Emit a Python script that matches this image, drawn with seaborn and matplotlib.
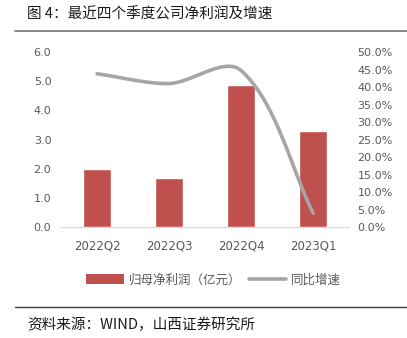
import numpy as np
import pandas as pd
import matplotlib
matplotlib.use("Agg")
import matplotlib.pyplot as plt
import seaborn as sns
from matplotlib.lines import Line2D
from matplotlib.patches import Patch

quarters = ["2022Q2", "2022Q3", "2022Q4", "2023Q1"]
net_profit = [1.99, 1.69, 4.87, 3.29]          # 归母净利润（亿元）
yoy_growth = [43.8, 41.0, 44.7, 4.0]            # 同比增速（%）
left_ticks = [0.0, 1.0, 2.0, 3.0, 4.0, 5.0, 6.0]
right_ticks = [0, 5, 10, 15, 20, 25, 30, 35, 40, 45, 50]

sns.set_theme(style="white")
plt.rcParams["font.family"] = ["Noto Sans CJK SC", "DejaVu Sans"]

BAR_RED = "#C0504D"
LINE_GREY = "#A6A6A6"
TICK_GREY = "#595959"


def smooth_curve(xs, ys, sx, sy, k=0.30, n=40):
    """Bezier smoothing in display-like units; control arms follow each
    neighbouring segment's length so steep drops do not overshoot."""
    P = np.column_stack([np.asarray(xs, float) * sx, np.asarray(ys, float) * sy])
    m = len(P)
    out = []
    for i in range(m - 1):
        a, b = P[i], P[i + 1]
        seg = np.linalg.norm(b - a)
        da = (P[i + 1] - P[i - 1]) if i > 0 else (b - a)
        db = (P[i + 2] - P[i]) if i + 2 < m else (b - a)
        c1 = a + da / np.linalg.norm(da) * seg * k
        c2 = b - db / np.linalg.norm(db) * seg * k
        t = np.linspace(0, 1, n)[:, None]
        pts = ((1 - t) ** 3) * a + 3 * ((1 - t) ** 2) * t * c1 \
            + 3 * (1 - t) * t ** 2 * c2 + t ** 3 * b
        out.append(pts if i == 0 else pts[1:])
    pts = np.vstack(out)
    return pts[:, 0] / sx, pts[:, 1] / sy


fig = plt.figure(figsize=(4.07, 3.38), dpi=100)
ax = fig.add_axes([0.150, 0.328, 0.708, 0.518])

df = pd.DataFrame({"quarter": quarters, "profit": net_profit})
sns.barplot(data=df, x="quarter", y="profit", color=BAR_RED, saturation=1,
            width=0.39, ax=ax)
ax.set_ylim(0, 6)
ax.set_yticks(left_ticks)
ax.set_yticklabels([f"{v:.1f}" for v in left_ticks])
ax.set_xlabel("")
ax.set_ylabel("")
ax.set_xlim(-0.5, 3.5)

for s in ["top", "right", "left"]:
    ax.spines[s].set_visible(False)
ax.spines["bottom"].set_color("#D9D9D9")
ax.spines["bottom"].set_linewidth(0.8)
ax.tick_params(axis="both", length=0, colors=TICK_GREY, labelsize=8)
ax.tick_params(axis="x", pad=9, labelsize=8.5)
ax.tick_params(axis="y", pad=7)
for lbl in ax.get_xticklabels() + ax.get_yticklabels():
    lbl.set_family("DejaVu Sans")

# smoothed growth curve on the secondary axis
ax2 = ax.twinx()
cx, cy = smooth_curve(range(len(yoy_growth)), yoy_growth, sx=72.0, sy=3.5)
sns.lineplot(x=cx, y=cy, sort=False, color=LINE_GREY, linewidth=2.6,
             ax=ax2, legend=False)
ax2.set_ylim(0, 50)
ax2.set_yticks(right_ticks)
ax2.set_yticklabels([f"{v:.1f}%" for v in right_ticks])
ax2.set_xlim(-0.5, 3.5)
for s in ["top", "right", "left", "bottom"]:
    ax2.spines[s].set_visible(False)
ax2.tick_params(axis="y", length=0, colors=TICK_GREY, labelsize=8, pad=6)
for lbl in ax2.get_yticklabels():
    lbl.set_family("DejaVu Sans")

handles = [Patch(facecolor=BAR_RED, edgecolor="none"),
           Line2D([0], [0], color=LINE_GREY, linewidth=2.6)]
fig.legend(handles, ["归母净利润（亿元）", "同比增速"],
           loc="center", bbox_to_anchor=(0.525, 0.172), ncol=2, frameon=False,
           fontsize=9, handlelength=3.0, handleheight=0.8, columnspacing=0.6,
           handletextpad=0.4, labelcolor=TICK_GREY)

fig.text(0.066, 0.958, "图 4：最近四个季度公司净利润及增速", fontsize=10.5,
         color="#1A1A1A", ha="left", va="center")
fig.add_artist(Line2D([0.037, 1.0], [0.909, 0.909], color="#7F7F7F",
                      linewidth=1.3, transform=fig.transFigure))
fig.add_artist(Line2D([0.037, 1.0], [0.092, 0.092], color="#404040",
                      linewidth=1.0, transform=fig.transFigure))
fig.text(0.066, 0.040, "资料来源：WIND，山西证券研究所", fontsize=10.5,
         color="#1A1A1A", ha="left", va="center")

fig.savefig("out.png", dpi=100, facecolor="white")
